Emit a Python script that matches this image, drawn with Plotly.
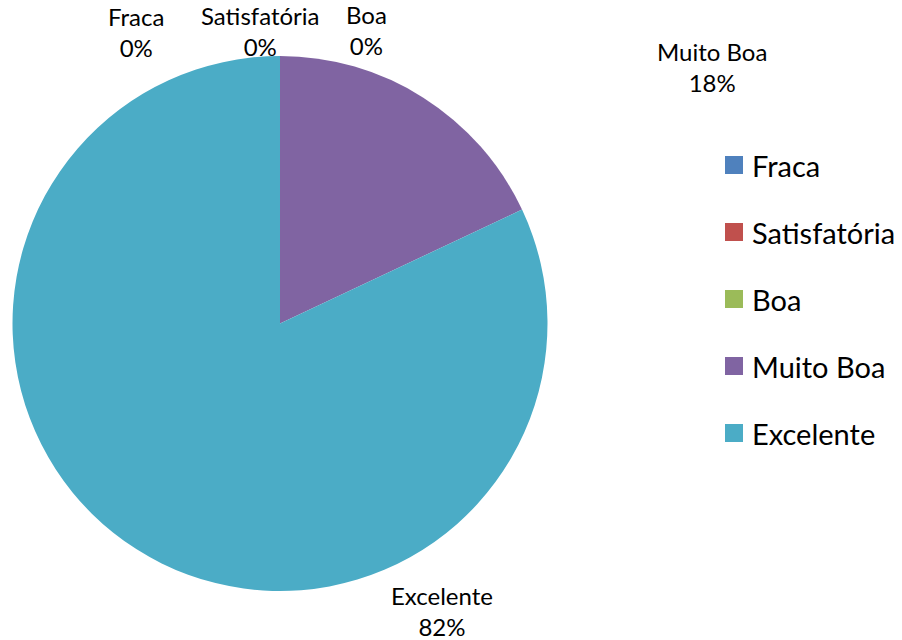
import plotly.graph_objects as go

categories = ["Fraca", "Satisfatória", "Boa", "Muito Boa", "Excelente"]
values = [0, 0, 0, 18, 82]
colors = ["#4F81BD", "#C0504D", "#9BBB59", "#8064A2", "#4BACC6"]

W, H = 902, 640
FONT = "Lato, Open Sans, sans-serif"

def px(x):
    return x / W

def py(y):
    return 1 - y / H

total = sum(values)
pcts = [round(v / total * 100) for v in values]

fig = go.Figure(go.Pie(
    labels=categories, values=values, sort=False, direction="clockwise",
    rotation=0, marker=dict(colors=colors, line=dict(width=0)),
    textinfo="none", hoverinfo="label+percent", showlegend=False,
    domain=dict(x=[px(12), px(548)], y=[py(591), py(56)]),
))

# data label positions (center x, center y of the first line) -- layout only
label_pos = [(136, 16), (260, 15), (366, 14), (712, 51), (442, 595)]
annotations = []
for cat, p, (lx, ly) in zip(categories, pcts, label_pos):
    annotations.append(dict(
        x=px(lx), y=py(ly + 16), xref="paper", yref="paper",
        text=f"{cat}<br>{p}%", showarrow=False, xanchor="center", yanchor="middle",
        font=dict(family=FONT, size=24, color="#000000"), align="center",
    ))

# manual legend
shapes = []
leg_y0 = 165
leg_dy = 67
for i, (cat, col) in enumerate(zip(categories, colors)):
    yc = leg_y0 + i * leg_dy
    shapes.append(dict(type="rect", xref="paper", yref="paper",
                       x0=px(725), x1=px(743), y0=py(yc + 9), y1=py(yc - 9),
                       fillcolor=col, line=dict(width=0)))
    annotations.append(dict(
        x=px(750), y=py(yc), xref="paper", yref="paper", text=cat,
        showarrow=False, xanchor="left", yanchor="middle",
        font=dict(family=FONT, size=29, color="#000000"),
    ))

fig.update_layout(
    width=W, height=H, margin=dict(l=0, r=0, t=0, b=0),
    paper_bgcolor="#FFFFFF", plot_bgcolor="#FFFFFF",
    annotations=annotations, shapes=shapes,
)

fig.write_html("out.html", config={"displayModeBar": False},
               post_script="document.body.style.margin='0';document.body.style.padding='0';")
